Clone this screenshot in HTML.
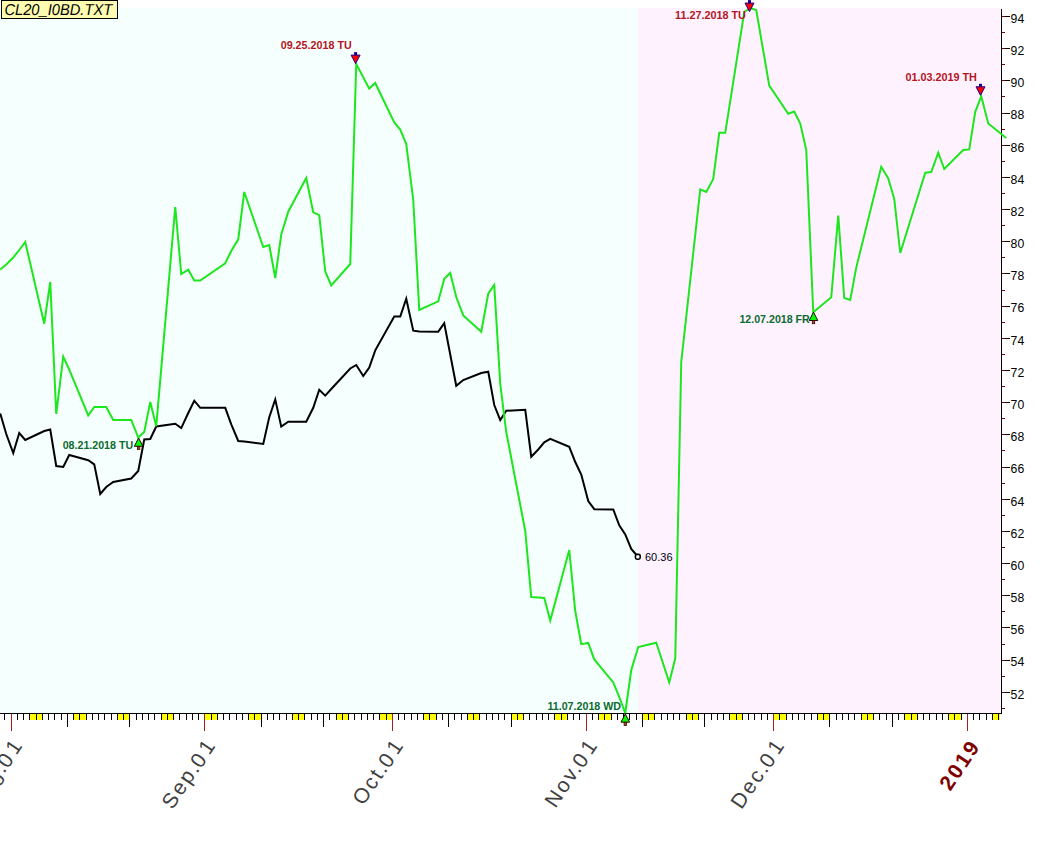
<!DOCTYPE html>
<html><head><meta charset="utf-8"><title>CL20_I0BD.TXT</title>
<style>
html,body{margin:0;padding:0;background:#fff;width:1063px;height:849px;overflow:hidden}
svg{display:block}
.ax{font-family:"Liberation Sans",Arial,sans-serif}
</style></head><body>
<svg width="1063" height="849" viewBox="0 0 1063 849">
<rect x="0" y="0" width="1063" height="849" fill="#ffffff"/>
<rect x="0" y="8" width="638" height="705" fill="#f5fffd"/>
<rect x="638" y="8" width="362" height="705" fill="#fff2ff"/>

<g shape-rendering="crispEdges">
<rect x="29" y="714" width="13" height="6" fill="#ffff00"/>
<rect x="73" y="714" width="13" height="6" fill="#ffff00"/>
<rect x="117" y="714" width="12" height="6" fill="#ffff00"/>
<rect x="161" y="714" width="12" height="6" fill="#ffff00"/>
<rect x="204" y="714" width="13" height="6" fill="#ffff00"/>
<rect x="248" y="714" width="13" height="6" fill="#ffff00"/>
<rect x="292" y="714" width="12" height="6" fill="#ffff00"/>
<rect x="336" y="714" width="12" height="6" fill="#ffff00"/>
<rect x="379" y="714" width="13" height="6" fill="#ffff00"/>
<rect x="423" y="714" width="13" height="6" fill="#ffff00"/>
<rect x="467" y="714" width="12" height="6" fill="#ffff00"/>
<rect x="511" y="714" width="12" height="6" fill="#ffff00"/>
<rect x="554" y="714" width="13" height="6" fill="#ffff00"/>
<rect x="598" y="714" width="13" height="6" fill="#ffff00"/>
<rect x="642" y="714" width="12" height="6" fill="#ffff00"/>
<rect x="686" y="714" width="12" height="6" fill="#ffff00"/>
<rect x="729" y="714" width="13" height="6" fill="#ffff00"/>
<rect x="773" y="714" width="13" height="6" fill="#ffff00"/>
<rect x="817" y="714" width="12" height="6" fill="#ffff00"/>
<rect x="861" y="714" width="12" height="6" fill="#ffff00"/>
<rect x="904" y="714" width="13" height="6" fill="#ffff00"/>
<rect x="948" y="714" width="13" height="6" fill="#ffff00"/>
<rect x="992" y="714" width="8" height="6" fill="#ffff00"/>
<rect x="0" y="713" width="1002" height="1" fill="#000"/>
<rect x="4" y="714" width="1" height="6" fill="#000"/>
<rect x="11" y="714" width="1" height="17" fill="#a02020"/>
<rect x="17" y="714" width="1" height="6" fill="#000"/>
<rect x="23" y="714" width="1" height="6" fill="#000"/>
<rect x="29" y="714" width="1" height="6" fill="#000"/>
<rect x="36" y="714" width="1" height="6" fill="#000"/>
<rect x="42" y="714" width="1" height="6" fill="#000"/>
<rect x="48" y="714" width="1" height="6" fill="#000"/>
<rect x="54" y="714" width="1" height="6" fill="#000"/>
<rect x="61" y="714" width="1" height="6" fill="#000"/>
<rect x="67" y="714" width="1" height="13" fill="#000"/>
<rect x="73" y="714" width="1" height="6" fill="#000"/>
<rect x="79" y="714" width="1" height="6" fill="#000"/>
<rect x="86" y="714" width="1" height="6" fill="#000"/>
<rect x="92" y="714" width="1" height="6" fill="#000"/>
<rect x="98" y="714" width="1" height="6" fill="#000"/>
<rect x="104" y="714" width="1" height="6" fill="#000"/>
<rect x="111" y="714" width="1" height="6" fill="#000"/>
<rect x="117" y="714" width="1" height="6" fill="#000"/>
<rect x="123" y="714" width="1" height="6" fill="#000"/>
<rect x="129" y="714" width="1" height="13" fill="#000"/>
<rect x="136" y="714" width="1" height="6" fill="#000"/>
<rect x="142" y="714" width="1" height="6" fill="#000"/>
<rect x="148" y="714" width="1" height="6" fill="#000"/>
<rect x="154" y="714" width="1" height="6" fill="#000"/>
<rect x="161" y="714" width="1" height="6" fill="#000"/>
<rect x="167" y="714" width="1" height="6" fill="#000"/>
<rect x="173" y="714" width="1" height="6" fill="#000"/>
<rect x="179" y="714" width="1" height="6" fill="#000"/>
<rect x="186" y="714" width="1" height="6" fill="#000"/>
<rect x="192" y="714" width="1" height="6" fill="#000"/>
<rect x="198" y="714" width="1" height="6" fill="#000"/>
<rect x="204" y="714" width="1" height="17" fill="#a02020"/>
<rect x="211" y="714" width="1" height="6" fill="#000"/>
<rect x="217" y="714" width="1" height="6" fill="#000"/>
<rect x="223" y="714" width="1" height="6" fill="#000"/>
<rect x="229" y="714" width="1" height="6" fill="#000"/>
<rect x="236" y="714" width="1" height="6" fill="#000"/>
<rect x="242" y="714" width="1" height="6" fill="#000"/>
<rect x="248" y="714" width="1" height="6" fill="#000"/>
<rect x="254" y="714" width="1" height="6" fill="#000"/>
<rect x="261" y="714" width="1" height="13" fill="#000"/>
<rect x="267" y="714" width="1" height="6" fill="#000"/>
<rect x="273" y="714" width="1" height="6" fill="#000"/>
<rect x="279" y="714" width="1" height="6" fill="#000"/>
<rect x="286" y="714" width="1" height="6" fill="#000"/>
<rect x="292" y="714" width="1" height="6" fill="#000"/>
<rect x="298" y="714" width="1" height="6" fill="#000"/>
<rect x="304" y="714" width="1" height="6" fill="#000"/>
<rect x="311" y="714" width="1" height="6" fill="#000"/>
<rect x="317" y="714" width="1" height="6" fill="#000"/>
<rect x="323" y="714" width="1" height="13" fill="#000"/>
<rect x="329" y="714" width="1" height="6" fill="#000"/>
<rect x="336" y="714" width="1" height="6" fill="#000"/>
<rect x="342" y="714" width="1" height="6" fill="#000"/>
<rect x="348" y="714" width="1" height="6" fill="#000"/>
<rect x="354" y="714" width="1" height="6" fill="#000"/>
<rect x="361" y="714" width="1" height="6" fill="#000"/>
<rect x="367" y="714" width="1" height="6" fill="#000"/>
<rect x="373" y="714" width="1" height="6" fill="#000"/>
<rect x="379" y="714" width="1" height="6" fill="#000"/>
<rect x="386" y="714" width="1" height="6" fill="#000"/>
<rect x="392" y="714" width="1" height="17" fill="#a02020"/>
<rect x="398" y="714" width="1" height="6" fill="#000"/>
<rect x="404" y="714" width="1" height="6" fill="#000"/>
<rect x="411" y="714" width="1" height="6" fill="#000"/>
<rect x="417" y="714" width="1" height="6" fill="#000"/>
<rect x="423" y="714" width="1" height="6" fill="#000"/>
<rect x="429" y="714" width="1" height="6" fill="#000"/>
<rect x="436" y="714" width="1" height="6" fill="#000"/>
<rect x="442" y="714" width="1" height="6" fill="#000"/>
<rect x="448" y="714" width="1" height="13" fill="#000"/>
<rect x="454" y="714" width="1" height="6" fill="#000"/>
<rect x="461" y="714" width="1" height="6" fill="#000"/>
<rect x="467" y="714" width="1" height="6" fill="#000"/>
<rect x="473" y="714" width="1" height="6" fill="#000"/>
<rect x="479" y="714" width="1" height="6" fill="#000"/>
<rect x="486" y="714" width="1" height="6" fill="#000"/>
<rect x="492" y="714" width="1" height="6" fill="#000"/>
<rect x="498" y="714" width="1" height="6" fill="#000"/>
<rect x="504" y="714" width="1" height="6" fill="#000"/>
<rect x="511" y="714" width="1" height="13" fill="#000"/>
<rect x="517" y="714" width="1" height="6" fill="#000"/>
<rect x="523" y="714" width="1" height="6" fill="#000"/>
<rect x="529" y="714" width="1" height="6" fill="#000"/>
<rect x="536" y="714" width="1" height="6" fill="#000"/>
<rect x="542" y="714" width="1" height="6" fill="#000"/>
<rect x="548" y="714" width="1" height="6" fill="#000"/>
<rect x="554" y="714" width="1" height="6" fill="#000"/>
<rect x="561" y="714" width="1" height="6" fill="#000"/>
<rect x="567" y="714" width="1" height="6" fill="#000"/>
<rect x="573" y="714" width="1" height="6" fill="#000"/>
<rect x="579" y="714" width="1" height="6" fill="#000"/>
<rect x="586" y="714" width="1" height="17" fill="#a02020"/>
<rect x="592" y="714" width="1" height="6" fill="#000"/>
<rect x="598" y="714" width="1" height="6" fill="#000"/>
<rect x="604" y="714" width="1" height="6" fill="#000"/>
<rect x="611" y="714" width="1" height="6" fill="#000"/>
<rect x="617" y="714" width="1" height="6" fill="#000"/>
<rect x="623" y="714" width="1" height="6" fill="#000"/>
<rect x="629" y="714" width="1" height="6" fill="#000"/>
<rect x="636" y="714" width="1" height="6" fill="#000"/>
<rect x="642" y="714" width="1" height="13" fill="#000"/>
<rect x="648" y="714" width="1" height="6" fill="#000"/>
<rect x="654" y="714" width="1" height="6" fill="#000"/>
<rect x="661" y="714" width="1" height="6" fill="#000"/>
<rect x="667" y="714" width="1" height="6" fill="#000"/>
<rect x="673" y="714" width="1" height="6" fill="#000"/>
<rect x="679" y="714" width="1" height="6" fill="#000"/>
<rect x="686" y="714" width="1" height="6" fill="#000"/>
<rect x="692" y="714" width="1" height="6" fill="#000"/>
<rect x="698" y="714" width="1" height="6" fill="#000"/>
<rect x="704" y="714" width="1" height="13" fill="#000"/>
<rect x="711" y="714" width="1" height="6" fill="#000"/>
<rect x="717" y="714" width="1" height="6" fill="#000"/>
<rect x="723" y="714" width="1" height="6" fill="#000"/>
<rect x="729" y="714" width="1" height="6" fill="#000"/>
<rect x="736" y="714" width="1" height="6" fill="#000"/>
<rect x="742" y="714" width="1" height="6" fill="#000"/>
<rect x="748" y="714" width="1" height="6" fill="#000"/>
<rect x="754" y="714" width="1" height="6" fill="#000"/>
<rect x="761" y="714" width="1" height="6" fill="#000"/>
<rect x="767" y="714" width="1" height="6" fill="#000"/>
<rect x="773" y="714" width="1" height="17" fill="#a02020"/>
<rect x="779" y="714" width="1" height="6" fill="#000"/>
<rect x="786" y="714" width="1" height="6" fill="#000"/>
<rect x="792" y="714" width="1" height="6" fill="#000"/>
<rect x="798" y="714" width="1" height="6" fill="#000"/>
<rect x="804" y="714" width="1" height="6" fill="#000"/>
<rect x="811" y="714" width="1" height="6" fill="#000"/>
<rect x="817" y="714" width="1" height="6" fill="#000"/>
<rect x="823" y="714" width="1" height="6" fill="#000"/>
<rect x="829" y="714" width="1" height="13" fill="#000"/>
<rect x="836" y="714" width="1" height="6" fill="#000"/>
<rect x="842" y="714" width="1" height="6" fill="#000"/>
<rect x="848" y="714" width="1" height="6" fill="#000"/>
<rect x="854" y="714" width="1" height="6" fill="#000"/>
<rect x="861" y="714" width="1" height="6" fill="#000"/>
<rect x="867" y="714" width="1" height="6" fill="#000"/>
<rect x="873" y="714" width="1" height="6" fill="#000"/>
<rect x="879" y="714" width="1" height="6" fill="#000"/>
<rect x="886" y="714" width="1" height="6" fill="#000"/>
<rect x="892" y="714" width="1" height="13" fill="#000"/>
<rect x="898" y="714" width="1" height="6" fill="#000"/>
<rect x="904" y="714" width="1" height="6" fill="#000"/>
<rect x="911" y="714" width="1" height="6" fill="#000"/>
<rect x="917" y="714" width="1" height="6" fill="#000"/>
<rect x="923" y="714" width="1" height="6" fill="#000"/>
<rect x="929" y="714" width="1" height="6" fill="#000"/>
<rect x="936" y="714" width="1" height="6" fill="#000"/>
<rect x="942" y="714" width="1" height="6" fill="#000"/>
<rect x="948" y="714" width="1" height="6" fill="#000"/>
<rect x="954" y="714" width="1" height="6" fill="#000"/>
<rect x="961" y="714" width="1" height="6" fill="#000"/>
<rect x="967" y="714" width="1" height="17" fill="#a02020"/>
<rect x="973" y="714" width="1" height="6" fill="#000"/>
<rect x="979" y="714" width="1" height="6" fill="#000"/>
<rect x="986" y="714" width="1" height="6" fill="#000"/>
<rect x="992" y="714" width="1" height="6" fill="#000"/>
<rect x="998" y="714" width="1" height="6" fill="#000"/>
<rect x="1001" y="9" width="1" height="705" fill="#000"/>
<rect x="1002" y="708" width="3" height="1" fill="#800000"/>
<rect x="1002" y="692" width="8" height="1" fill="#000"/>
<rect x="1002" y="692" width="3" height="1" fill="#800000"/>
<rect x="1002" y="676" width="3" height="1" fill="#800000"/>
<rect x="1002" y="660" width="8" height="1" fill="#000"/>
<rect x="1002" y="660" width="3" height="1" fill="#800000"/>
<rect x="1002" y="644" width="3" height="1" fill="#800000"/>
<rect x="1002" y="627" width="8" height="1" fill="#000"/>
<rect x="1002" y="627" width="3" height="1" fill="#800000"/>
<rect x="1002" y="611" width="3" height="1" fill="#800000"/>
<rect x="1002" y="595" width="8" height="1" fill="#000"/>
<rect x="1002" y="595" width="3" height="1" fill="#800000"/>
<rect x="1002" y="579" width="3" height="1" fill="#800000"/>
<rect x="1002" y="563" width="8" height="1" fill="#000"/>
<rect x="1002" y="563" width="3" height="1" fill="#800000"/>
<rect x="1002" y="547" width="3" height="1" fill="#800000"/>
<rect x="1002" y="531" width="8" height="1" fill="#000"/>
<rect x="1002" y="531" width="3" height="1" fill="#800000"/>
<rect x="1002" y="515" width="3" height="1" fill="#800000"/>
<rect x="1002" y="499" width="8" height="1" fill="#000"/>
<rect x="1002" y="499" width="3" height="1" fill="#800000"/>
<rect x="1002" y="483" width="3" height="1" fill="#800000"/>
<rect x="1002" y="467" width="8" height="1" fill="#000"/>
<rect x="1002" y="467" width="3" height="1" fill="#800000"/>
<rect x="1002" y="450" width="3" height="1" fill="#800000"/>
<rect x="1002" y="434" width="8" height="1" fill="#000"/>
<rect x="1002" y="434" width="3" height="1" fill="#800000"/>
<rect x="1002" y="418" width="3" height="1" fill="#800000"/>
<rect x="1002" y="402" width="8" height="1" fill="#000"/>
<rect x="1002" y="402" width="3" height="1" fill="#800000"/>
<rect x="1002" y="386" width="3" height="1" fill="#800000"/>
<rect x="1002" y="370" width="8" height="1" fill="#000"/>
<rect x="1002" y="370" width="3" height="1" fill="#800000"/>
<rect x="1002" y="354" width="3" height="1" fill="#800000"/>
<rect x="1002" y="338" width="8" height="1" fill="#000"/>
<rect x="1002" y="338" width="3" height="1" fill="#800000"/>
<rect x="1002" y="322" width="3" height="1" fill="#800000"/>
<rect x="1002" y="306" width="8" height="1" fill="#000"/>
<rect x="1002" y="306" width="3" height="1" fill="#800000"/>
<rect x="1002" y="290" width="3" height="1" fill="#800000"/>
<rect x="1002" y="273" width="8" height="1" fill="#000"/>
<rect x="1002" y="273" width="3" height="1" fill="#800000"/>
<rect x="1002" y="257" width="3" height="1" fill="#800000"/>
<rect x="1002" y="241" width="8" height="1" fill="#000"/>
<rect x="1002" y="241" width="3" height="1" fill="#800000"/>
<rect x="1002" y="225" width="3" height="1" fill="#800000"/>
<rect x="1002" y="209" width="8" height="1" fill="#000"/>
<rect x="1002" y="209" width="3" height="1" fill="#800000"/>
<rect x="1002" y="193" width="3" height="1" fill="#800000"/>
<rect x="1002" y="177" width="8" height="1" fill="#000"/>
<rect x="1002" y="177" width="3" height="1" fill="#800000"/>
<rect x="1002" y="161" width="3" height="1" fill="#800000"/>
<rect x="1002" y="145" width="8" height="1" fill="#000"/>
<rect x="1002" y="145" width="3" height="1" fill="#800000"/>
<rect x="1002" y="129" width="3" height="1" fill="#800000"/>
<rect x="1002" y="113" width="8" height="1" fill="#000"/>
<rect x="1002" y="113" width="3" height="1" fill="#800000"/>
<rect x="1002" y="96" width="3" height="1" fill="#800000"/>
<rect x="1002" y="80" width="8" height="1" fill="#000"/>
<rect x="1002" y="80" width="3" height="1" fill="#800000"/>
<rect x="1002" y="64" width="3" height="1" fill="#800000"/>
<rect x="1002" y="48" width="8" height="1" fill="#000"/>
<rect x="1002" y="48" width="3" height="1" fill="#800000"/>
<rect x="1002" y="32" width="3" height="1" fill="#800000"/>
<rect x="1002" y="16" width="8" height="1" fill="#000"/>
<rect x="1002" y="16" width="3" height="1" fill="#800000"/>
</g>
<g class="ax" font-size="13.6" fill="#000">
<text x="0" y="0" transform="translate(1010.6,698.6) scale(0.9,1)">52</text>
<text x="0" y="0" transform="translate(1010.6,666.4) scale(0.9,1)">54</text>
<text x="0" y="0" transform="translate(1010.6,634.2) scale(0.9,1)">56</text>
<text x="0" y="0" transform="translate(1010.6,602.0) scale(0.9,1)">58</text>
<text x="0" y="0" transform="translate(1010.6,569.9) scale(0.9,1)">60</text>
<text x="0" y="0" transform="translate(1010.6,537.7) scale(0.9,1)">62</text>
<text x="0" y="0" transform="translate(1010.6,505.5) scale(0.9,1)">64</text>
<text x="0" y="0" transform="translate(1010.6,473.3) scale(0.9,1)">66</text>
<text x="0" y="0" transform="translate(1010.6,441.1) scale(0.9,1)">68</text>
<text x="0" y="0" transform="translate(1010.6,409.0) scale(0.9,1)">70</text>
<text x="0" y="0" transform="translate(1010.6,376.8) scale(0.9,1)">72</text>
<text x="0" y="0" transform="translate(1010.6,344.6) scale(0.9,1)">74</text>
<text x="0" y="0" transform="translate(1010.6,312.4) scale(0.9,1)">76</text>
<text x="0" y="0" transform="translate(1010.6,280.2) scale(0.9,1)">78</text>
<text x="0" y="0" transform="translate(1010.6,248.1) scale(0.9,1)">80</text>
<text x="0" y="0" transform="translate(1010.6,215.9) scale(0.9,1)">82</text>
<text x="0" y="0" transform="translate(1010.6,183.7) scale(0.9,1)">84</text>
<text x="0" y="0" transform="translate(1010.6,151.5) scale(0.9,1)">86</text>
<text x="0" y="0" transform="translate(1010.6,119.3) scale(0.9,1)">88</text>
<text x="0" y="0" transform="translate(1010.6,87.2) scale(0.9,1)">90</text>
<text x="0" y="0" transform="translate(1010.6,55.0) scale(0.9,1)">92</text>
<text x="0" y="0" transform="translate(1010.6,22.8) scale(0.9,1)">94</text>
</g>
<g class="ax" font-size="21" fill="#404040" letter-spacing="2.15">
<text x="0" y="0" text-anchor="end" transform="translate(24.0,744.3) rotate(-56)">Aug.<tspan dx="-2" dy="0.6">0</tspan><tspan dx="2" dy="-0.6">1</tspan></text>
<text x="0" y="0" text-anchor="end" transform="translate(217.0,744.3) rotate(-56)">Sep.<tspan dx="-2" dy="0.6">0</tspan><tspan dx="2" dy="-0.6">1</tspan></text>
<text x="0" y="0" text-anchor="end" transform="translate(405.0,744.3) rotate(-56)">Oct.<tspan dx="-2" dy="0.6">0</tspan><tspan dx="2" dy="-0.6">1</tspan></text>
<text x="0" y="0" text-anchor="end" transform="translate(599.0,744.3) rotate(-56)">Nov.<tspan dx="-2" dy="0.6">0</tspan><tspan dx="2" dy="-0.6">1</tspan></text>
<text x="0" y="0" text-anchor="end" transform="translate(786.0,744.3) rotate(-56)">Dec.<tspan dx="-2" dy="0.6">0</tspan><tspan dx="2" dy="-0.6">1</tspan></text>
<text x="0" y="0" text-anchor="end" font-weight="bold" fill="#800000" transform="translate(981.2,745.8) rotate(-56)">2019</text>
</g>
<polyline fill="none" stroke="#000" stroke-width="2" stroke-linejoin="miter" points="0.25,413.5 6.25,434.0 13.25,453.0 19.25,433.0 25.25,440.0 44.25,431.0 50.25,429.5 56.25,466.0 63.25,467.0 69.25,455.0 88.25,460.2 94.25,464.4 100.25,494.0 106.25,487.0 113.25,482.0 131.25,478.5 138.25,471.0 144.25,439.5 150.25,439.0 156.25,426.5 175.25,423.8 181.25,428.1 188.25,413.0 194.25,400.7 200.25,407.8 219.25,407.8 225.25,407.8 231.25,424.3 238.25,441.0 244.25,441.5 263.25,444.0 269.25,417.2 275.25,399.4 281.25,426.6 288.25,421.7 306.25,421.7 313.25,407.8 319.25,389.8 325.25,395.6 331.25,389.0 350.25,368.5 356.25,365.0 363.25,376.0 369.25,367.5 375.25,350.3 394.25,316.6 400.25,316.6 406.25,298.7 413.25,330.7 419.25,331.6 438.25,331.7 444.25,323.2 456.25,385.8 463.25,380.0 481.25,373.0 488.25,371.7 494.25,405.0 500.25,420.0 506.25,410.8 525.25,409.8 531.25,456.8 538.25,449.5 544.25,442.3 550.25,438.8 569.25,446.8 575.25,462.0 581.25,474.5 588.25,501.0 594.25,509.2 613.25,509.4 619.25,525.4 625.25,534.4 631.25,549.0 638.25,557.0"/>
<polyline fill="none" stroke="#1ee61e" stroke-width="2" stroke-linejoin="miter" points="0.25,269.5 6.25,264.5 13.25,257.5 19.25,250.0 25.25,242.0 44.25,323.7 50.25,282.0 56.25,414.0 63.25,356.7 69.25,369.7 88.25,415.5 94.25,407.0 100.25,407.0 106.25,407.0 113.25,420.0 131.25,420.0 138.25,437.5 144.25,432.0 150.25,402.0 156.25,426.2 175.25,207.0 181.25,274.0 188.25,269.7 194.25,280.6 200.25,280.6 225.25,263.3 231.25,251.0 238.25,239.3 244.25,192.0 263.25,247.0 269.25,245.0 275.25,278.0 281.25,234.4 288.25,211.7 306.25,178.0 313.25,212.4 319.25,215.2 325.25,271.5 331.25,285.5 350.25,264.0 356.25,64.0 369.25,88.6 375.25,83.0 394.25,122.5 400.25,129.6 406.25,144.0 413.25,200.0 419.25,310.0 438.25,301.3 444.25,278.7 450.25,273.0 456.25,297.0 463.25,315.4 481.25,331.7 488.25,293.6 494.25,285.0 500.25,384.0 506.25,432.0 525.25,531.0 531.25,597.0 538.25,597.5 544.25,598.0 550.25,620.6 569.25,550.0 575.25,611.0 581.25,644.2 588.25,643.0 594.25,659.4 613.25,682.4 619.25,697.0 625.25,713.2 631.25,670.0 638.25,647.0 656.25,642.7 669.25,682.4 675.25,658.6 681.25,362.0 700.25,189.4 706.25,192.0 713.25,179.0 719.25,132.8 725.25,132.8 744.25,12.0 750.25,8.0 756.25,10.0 769.25,85.6 788.25,113.7 794.25,111.5 800.25,123.6 806.25,150.0 813.25,312.2 831.25,297.3 838.25,215.6 844.25,298.0 850.25,300.0 856.25,267.6 881.25,166.8 888.25,178.5 894.25,199.0 900.25,253.0 925.25,172.7 931.25,172.0 938.25,152.6 944.25,169.0 963.25,150.0 969.25,149.4 975.25,111.8 981.25,96.3 988.25,123.5 1006.25,138.0"/>
<rect x="635.4" y="554.4" width="4.8" height="4.8" rx="1.6" fill="#fff" stroke="#000" stroke-width="1.6"/>
<text class="ax" x="645" y="560.8" font-size="11" fill="#000010">60.36</text>
<rect x="354.1" y="52.1" width="3" height="3" fill="#1a0090"/><polygon points="351.1,55.1 360.1,55.1 355.6,63.6" fill="#ff0000" stroke="#1a0090" stroke-width="1"/>
<rect x="748.0" y="0.09999999999999964" width="3" height="3" fill="#1a0090"/><polygon points="745.0,3.0999999999999996 754.0,3.0999999999999996 749.5,11.6" fill="#ff0000" stroke="#1a0090" stroke-width="1"/>
<rect x="979.0" y="83.8" width="3" height="3" fill="#1a0090"/><polygon points="976.0,86.8 985.0,86.8 980.5,95.3" fill="#ff0000" stroke="#1a0090" stroke-width="1"/>
<polygon points="134.29999999999998,446.3 142.9,446.3 138.6,438" fill="#00ff00" stroke="#300000" stroke-width="1"/><rect x="137.4" y="446.3" width="2.4" height="3.2" fill="#806010" stroke="#500000" stroke-width="0.8"/>
<polygon points="621.0,722.1999999999999 629.5999999999999,722.1999999999999 625.3,713.9" fill="#00ff00" stroke="#300000" stroke-width="1"/><rect x="624.0999999999999" y="722.1999999999999" width="2.4" height="3.2" fill="#806010" stroke="#500000" stroke-width="0.8"/>
<polygon points="809.2,320.5 817.8,320.5 813.5,312.2" fill="#00ff00" stroke="#300000" stroke-width="1"/><rect x="812.3" y="320.5" width="2.4" height="3.2" fill="#806010" stroke="#500000" stroke-width="0.8"/>
<text class="ax" x="280.7" y="49.0" font-size="11" font-weight="bold" fill="#b4141e" textLength="71.0" lengthAdjust="spacingAndGlyphs">09.25.2018 TU</text>
<text class="ax" x="675.0" y="18.9" font-size="11" font-weight="bold" fill="#b4141e" textLength="70.8" lengthAdjust="spacingAndGlyphs">11.27.2018 TU</text>
<text class="ax" x="905.4" y="81.1" font-size="11" font-weight="bold" fill="#b4141e" textLength="71.5" lengthAdjust="spacingAndGlyphs">01.03.2019 TH</text>
<text class="ax" x="62.7" y="448.8" font-size="11" font-weight="bold" fill="#0c6a30" textLength="70.4" lengthAdjust="spacingAndGlyphs">08.21.2018 TU</text>
<text class="ax" x="547.4" y="709.9" font-size="11" font-weight="bold" fill="#0c6a30" textLength="73.7" lengthAdjust="spacingAndGlyphs">11.07.2018 WD</text>
<text class="ax" x="739.4" y="322.9" font-size="11" font-weight="bold" fill="#0c6a30" textLength="70.4" lengthAdjust="spacingAndGlyphs">12.07.2018 FR</text>
<rect x="1.5" y="0.5" width="116" height="18" fill="#fdfbb0" stroke="#000" stroke-width="1"/>
<text class="ax" x="0" y="0" transform="translate(4.4,15.0) scale(0.93,1)" font-size="15.8" text-rendering="geometricPrecision" font-style="italic" fill="#000">CL20_I0BD.TXT</text>
</svg></body></html>
